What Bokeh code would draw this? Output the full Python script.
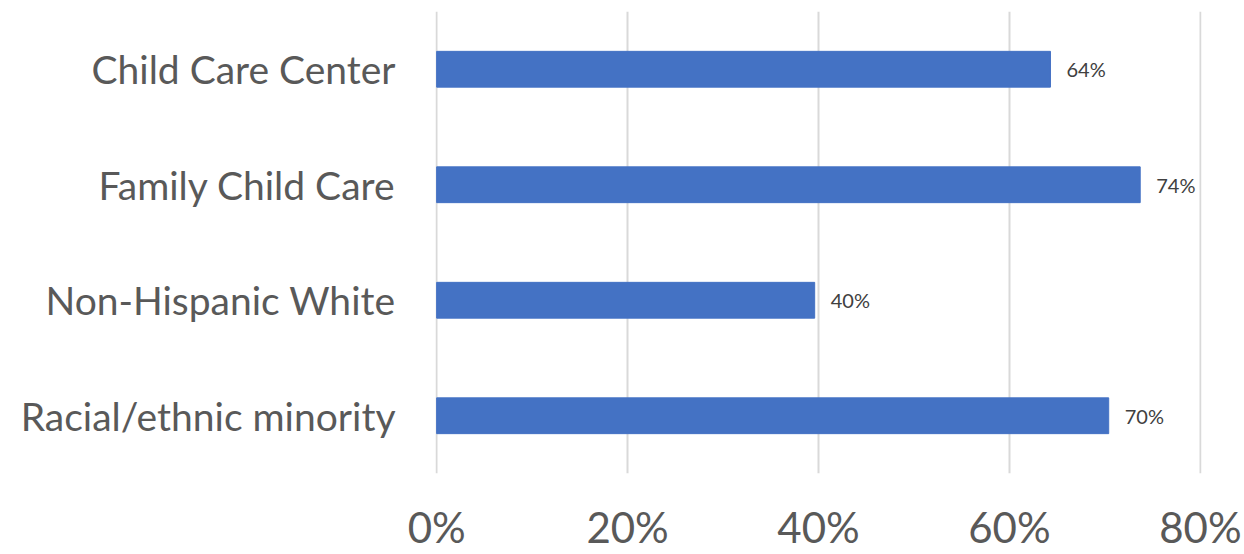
from bokeh.plotting import figure
from bokeh.models import ColumnDataSource, FactorRange, Range1d, FixedTicker
from bokeh.embed import file_html
from bokeh.resources import INLINE
from bokeh.core.properties import value

categories = ["Child Care Center", "Family Child Care", "Non-Hispanic White", "Racial/ethnic minority"]
values = [64.3, 73.7, 39.6, 70.4]
value_labels = ["64%", "74%", "40%", "70%"]
x_ticks = [0, 20, 40, 60, 80]
x_tick_labels = ["0%", "20%", "40%", "60%", "80%"]

src = ColumnDataSource(dict(cat=categories, val=values, lab=value_labels))

p = figure(width=1244, height=554, output_backend="svg", toolbar_location=None,
           y_range=FactorRange(factors=categories[::-1], range_padding=0),
           x_range=Range1d(-0.12, 80.12),
           min_border_left=435, min_border_right=43, min_border_top=11, min_border_bottom=81)

p.hbar(y="cat", right="val", left=0, height=0.31, source=src,
       fill_color="#4472C4", line_color="#4472C4")
p.text(x="val", y="cat", text="lab", source=src, x_offset=16, text_baseline="middle",
       text_font=value("Lato"), text_font_size="20px", text_color="#404040")

p.xaxis.ticker = FixedTicker(ticks=x_ticks)
p.xaxis.major_label_overrides = {t: l for t, l in zip(x_ticks, x_tick_labels)}
p.xaxis.major_label_text_font = "Lato"
p.xaxis.major_label_text_font_size = "42px"
p.xaxis.major_label_text_color = "#595959"
p.xaxis.major_label_standoff = 22

p.yaxis.major_label_text_font = "Lato"
p.yaxis.major_label_text_font_size = "39px"
p.yaxis.major_label_text_color = "#595959"
p.yaxis.major_label_standoff = 34

for ax in (p.xaxis, p.yaxis):
    ax.axis_line_color = None
    ax.major_tick_line_color = None
    ax.minor_tick_line_color = None

p.ygrid.grid_line_color = None
p.xgrid.grid_line_color = "#d9d9d9"
p.xgrid.grid_line_width = 2
p.outline_line_color = None

open("out.html", "w").write(file_html(p, INLINE))
